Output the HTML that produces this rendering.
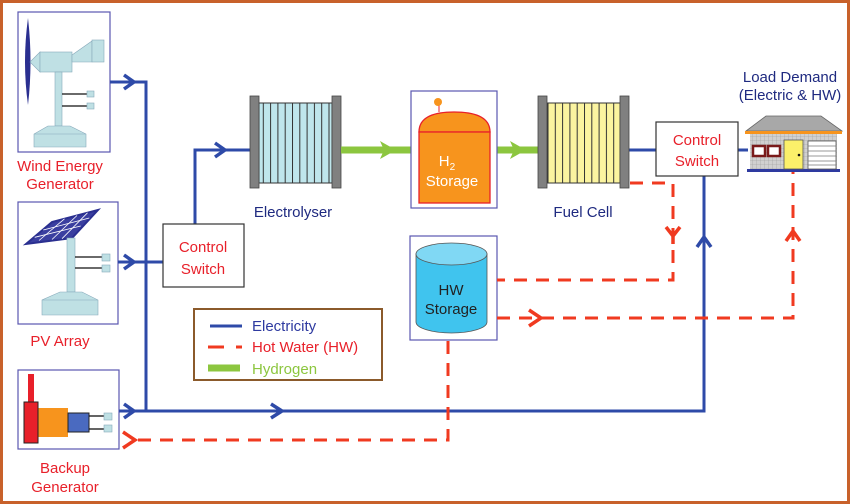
<!DOCTYPE html>
<html><head><meta charset="utf-8"><style>
html,body{margin:0;padding:0;background:#fff}
svg{display:block}
text{font-family:"Liberation Sans",sans-serif}
</style></head><body>
<svg width="850" height="504" viewBox="0 0 850 504" xmlns="http://www.w3.org/2000/svg">
<defs>
<pattern id="el" width="7.3" height="10" patternUnits="userSpaceOnUse"><rect width="7.3" height="10" fill="#bfe6ec"/><line x1="0.5" y1="0" x2="0.5" y2="10" stroke="#333" stroke-width="1"/></pattern>
<pattern id="fc" width="7.3" height="10" patternUnits="userSpaceOnUse"><rect width="7.3" height="10" fill="#fbf4a0"/><line x1="0.5" y1="0" x2="0.5" y2="10" stroke="#333" stroke-width="1"/></pattern>
<pattern id="brick" width="4" height="4" patternUnits="userSpaceOnUse"><rect width="4" height="4" fill="#d0d0d0"/><path d="M0 0H4M0 0V4" stroke="#999" stroke-width="0.6"/></pattern>
</defs>
<rect x="1.5" y="1.5" width="847" height="501" fill="#fff" stroke="#c8612a" stroke-width="3"/>

<!-- Wind box -->
<rect x="18" y="12" width="92" height="140" fill="#fff" stroke="#5a58b0" stroke-width="1.2"/>
<path d="M28 18 Q22 62 28 105 Q33 62 28 18Z" fill="#2a2f90"/>
<polygon points="30,62 40,52 40,72" fill="#bfe0e4" stroke="#8ab" stroke-width="0.6"/>
<rect x="40" y="52" width="32" height="20" fill="#bfe0e4" stroke="#8ab" stroke-width="0.6"/>
<polygon points="72,55 92,41 92,62 72,62" fill="#bfe0e4" stroke="#8ab" stroke-width="0.6"/>
<rect x="92" y="40" width="12" height="22" fill="#bfe0e4" stroke="#8ab" stroke-width="0.6"/>
<rect x="55" y="72" width="7" height="54" fill="#bfe0e4" stroke="#8ab" stroke-width="0.6"/>
<polygon points="48,126 70,126 86,134 86,147 34,147 34,134" fill="#bfe0e4" stroke="#8ab" stroke-width="0.6"/>
<line x1="34" y1="134" x2="86" y2="134" stroke="#8ab" stroke-width="0.6"/>
<line x1="62" y1="94" x2="87" y2="94" stroke="#111" stroke-width="1.3"/>
<line x1="62" y1="106" x2="87" y2="106" stroke="#111" stroke-width="1.3"/>
<rect x="87" y="91" width="7" height="6" fill="#bfe0e4" stroke="#8ab" stroke-width="0.6"/>
<rect x="87" y="103" width="7" height="6" fill="#bfe0e4" stroke="#8ab" stroke-width="0.6"/>
<text x="60" y="171" font-size="15" fill="#e8202a" text-anchor="middle">Wind Energy</text>
<text x="60" y="189" font-size="15" fill="#e8202a" text-anchor="middle">Generator</text>

<!-- PV box -->
<rect x="18" y="202" width="100" height="122" fill="#fff" stroke="#5a58b0" stroke-width="1.2"/>
<polygon points="26,244 52,222 98,210 72,238" fill="#3a3fa0" stroke="#2a2f90" stroke-width="2"/>
<g stroke="#fff" stroke-width="0.8">
<line x1="39" y1="240.5" x2="64.5" y2="218.8"/>
<line x1="52" y1="239.5" x2="77" y2="215.5"/>
<line x1="62" y1="238.7" x2="87.5" y2="212.8"/>
<line x1="34.7" y1="237.3" x2="80.7" y2="226"/>
<line x1="43.3" y1="230" x2="89.3" y2="218"/>
</g>
<rect x="67" y="238" width="8" height="54" fill="#bfe0e4" stroke="#8ab" stroke-width="0.6"/>
<polygon points="60,292 82,292 98,300 98,315 42,315 42,300" fill="#bfe0e4" stroke="#8ab" stroke-width="0.6"/>
<line x1="42" y1="300" x2="98" y2="300" stroke="#8ab" stroke-width="0.6"/>
<line x1="75" y1="257" x2="102" y2="257" stroke="#111" stroke-width="1.3"/>
<line x1="75" y1="268" x2="102" y2="268" stroke="#111" stroke-width="1.3"/>
<rect x="102" y="254" width="8" height="7" fill="#bfe0e4" stroke="#8ab" stroke-width="0.6"/>
<rect x="102" y="265" width="8" height="7" fill="#bfe0e4" stroke="#8ab" stroke-width="0.6"/>
<text x="60" y="346" font-size="15" fill="#e8202a" text-anchor="middle">PV Array</text>

<!-- Backup box -->
<rect x="18" y="370" width="101" height="79" fill="#fff" stroke="#5a58b0" stroke-width="1.2"/>
<rect x="28" y="374" width="6" height="30" fill="#e8202a"/>
<rect x="38" y="408" width="30" height="29" fill="#f7941d"/>
<rect x="24" y="402" width="14" height="41" fill="#e8202a" stroke="#222" stroke-width="1"/>
<rect x="68" y="413" width="21" height="19" fill="#4a6ac0" stroke="#222" stroke-width="1"/>
<line x1="89" y1="416" x2="104" y2="416" stroke="#111" stroke-width="1.3"/>
<line x1="89" y1="429" x2="104" y2="429" stroke="#111" stroke-width="1.3"/>
<rect x="104" y="413" width="8" height="7" fill="#bfe0e4" stroke="#8ab" stroke-width="0.6"/>
<rect x="104" y="425" width="8" height="7" fill="#bfe0e4" stroke="#8ab" stroke-width="0.6"/>
<text x="65" y="473" font-size="15" fill="#e8202a" text-anchor="middle">Backup</text>
<text x="65" y="492" font-size="15" fill="#e8202a" text-anchor="middle">Generator</text>

<!-- Electric lines -->
<g stroke="#2e4aa8" stroke-width="3" fill="none">
<path d="M110 82H146V411"/>
<path d="M118 262H163"/>
<path d="M119 411H704V176"/>
<path d="M195 224V150H250"/>
<path d="M629 150H656"/>
<path d="M738 150H748"/>
</g>
<g stroke="#2e4aa8" stroke-width="3.5" fill="none">
<path d="M124 75L134 82L124 89"/>
<path d="M124 255L134 262L124 269"/>
<path d="M124 404L134 411L124 418"/>
<path d="M271 404L282 411L271 418"/>
<path d="M215 143L225 150L215 157"/>
<path d="M697 247L704 237L711 247"/>
</g>

<!-- Control switch 1 -->
<rect x="163" y="224" width="81" height="63" fill="#fff" stroke="#333" stroke-width="1.2"/>
<text x="203" y="252" font-size="15" fill="#e8202a" text-anchor="middle">Control</text>
<text x="203" y="274" font-size="15" fill="#e8202a" text-anchor="middle">Switch</text>

<!-- Electrolyser -->
<rect x="259" y="103" width="73" height="80" fill="url(#el)" stroke="#333" stroke-width="1"/>
<rect x="250" y="96" width="9" height="92" fill="#808080" stroke="#444" stroke-width="0.8"/>
<rect x="332" y="96" width="9" height="92" fill="#808080" stroke="#444" stroke-width="0.8"/>
<text x="293" y="217" font-size="15" fill="#1f2a80" text-anchor="middle">Electrolyser</text>

<!-- Green -->
<g stroke="#8cc63f" stroke-width="7" fill="none">
<path d="M341 150H411"/><path d="M497 150H538"/>
</g>
<polygon points="380,141 396,150 380,159 384,150" fill="#8cc63f"/>
<polygon points="510,141 526,150 510,159 514,150" fill="#8cc63f"/>

<!-- H2 storage -->
<rect x="411" y="91" width="86" height="117" fill="#fff" stroke="#5a58b0" stroke-width="1.2"/>
<path d="M419 132 Q419 112 454 112 Q490 112 490 132Z" fill="#f7941d" stroke="#e8202a" stroke-width="1.3"/>
<rect x="419" y="132" width="71" height="71" fill="#f7941d" stroke="#e8202a" stroke-width="1.3"/>
<line x1="439" y1="104" x2="439" y2="112" stroke="#e8202a" stroke-width="1"/>
<circle cx="438" cy="102" r="4" fill="#f7941d"/>
<text x="447" y="166" font-size="15" fill="#fff" text-anchor="middle">H<tspan font-size="10" dy="4">2</tspan></text>
<text x="452" y="186" font-size="15" fill="#fff" text-anchor="middle">Storage</text>

<!-- Fuel cell -->
<rect x="547" y="103" width="73" height="80" fill="url(#fc)" stroke="#333" stroke-width="1"/>
<rect x="538" y="96" width="9" height="92" fill="#808080" stroke="#444" stroke-width="0.8"/>
<rect x="620" y="96" width="9" height="92" fill="#808080" stroke="#444" stroke-width="0.8"/>
<text x="583" y="217" font-size="15" fill="#1f2a80" text-anchor="middle">Fuel Cell</text>

<!-- Control switch 2 -->
<rect x="656" y="122" width="82" height="54" fill="#fff" stroke="#333" stroke-width="1.2"/>
<text x="697" y="145" font-size="15" fill="#e8202a" text-anchor="middle">Control</text>
<text x="697" y="166" font-size="15" fill="#e8202a" text-anchor="middle">Switch</text>

<!-- House -->
<text x="790" y="82" font-size="15" fill="#1f2a80" text-anchor="middle">Load Demand</text>
<text x="790" y="100" font-size="15" fill="#1f2a80" text-anchor="middle">(Electric &amp; HW)</text>
<polygon points="766,116 821,116 842,131 746,131" fill="#a8a8a8" stroke="#666" stroke-width="0.8"/>
<rect x="745" y="131" width="97" height="3" fill="#f7941d"/>
<rect x="750" y="134" width="87" height="36" fill="url(#brick)"/>
<rect x="747" y="169" width="93" height="3" fill="#2e3aa0"/>
<rect x="753" y="146" width="12" height="10" fill="#fff" stroke="#7a1a1a" stroke-width="2.5"/>
<rect x="768" y="146" width="12" height="10" fill="#fff" stroke="#7a1a1a" stroke-width="2.5"/>
<rect x="784" y="140" width="19" height="29" fill="#fbf06a" stroke="#555" stroke-width="0.8"/>
<circle cx="799" cy="155" r="1.3" fill="#111"/>
<rect x="808" y="141" width="28" height="28" fill="#fff" stroke="#555" stroke-width="0.8"/>
<path d="M808 146H836M808 151H836M808 156H836M808 161H836M808 165H836" stroke="#777" stroke-width="0.8"/>

<!-- HW storage -->
<rect x="410" y="236" width="87" height="104" fill="#fff" stroke="#5a58b0" stroke-width="1.2"/>
<path d="M416 254V322A35.5 11 0 0 0 487 322V254Z" fill="#40c4ee" stroke="#555" stroke-width="0.8"/>
<ellipse cx="451.5" cy="254" rx="35.5" ry="11" fill="#80d8f4" stroke="#555" stroke-width="0.8"/>
<text x="451" y="295" font-size="15" fill="#222" text-anchor="middle">HW</text>
<text x="451" y="314" font-size="15" fill="#222" text-anchor="middle">Storage</text>

<!-- Hot water dashed -->
<g stroke="#f03a20" stroke-width="3" fill="none" stroke-dasharray="13,9">
<path d="M630 183H673V280H497"/>
<path d="M497 318H793V172"/>
<path d="M448 341V440H132"/>
</g>
<g stroke="#f03a20" stroke-width="3.5" fill="none">
<path d="M666 227L673 236L680 227M673 236V244"/>
<path d="M529 310L541 318L529 326"/>
<path d="M786 241L793 231L800 241"/>
<path d="M123 432L135 440L123 448"/>
</g>

<!-- Legend -->
<rect x="194" y="309" width="188" height="71" fill="#fff" stroke="#8b5a2b" stroke-width="2"/>
<line x1="210" y1="326" x2="242" y2="326" stroke="#2e4aa8" stroke-width="3"/>
<path d="M208 347H224M236 347H242" stroke="#f03a20" stroke-width="3"/>
<line x1="208" y1="368" x2="240" y2="368" stroke="#8cc63f" stroke-width="7"/>
<text x="252" y="331" font-size="15" fill="#2e3aa0">Electricity</text>
<text x="252" y="352" font-size="15" fill="#e8202a">Hot Water (HW)</text>
<text x="252" y="374" font-size="15" fill="#8cc63f">Hydrogen</text>
</svg>
</body></html>
